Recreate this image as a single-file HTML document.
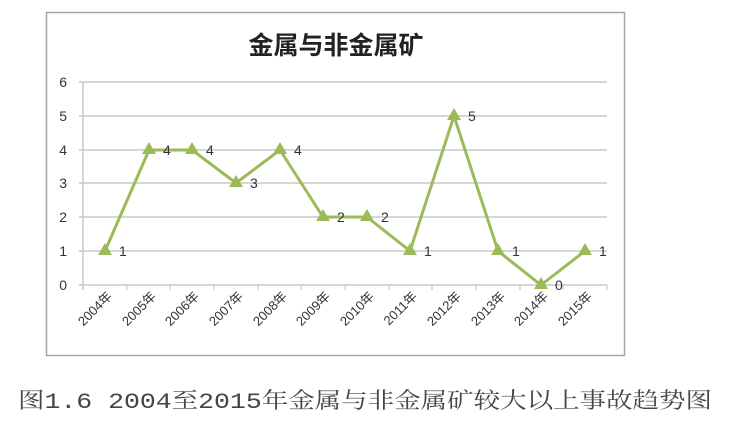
<!DOCTYPE html>
<html><head><meta charset="utf-8"><style>
body{margin:0;background:#fff;width:731px;height:421px;overflow:hidden}
</style></head><body>
<svg width="731" height="421" xmlns="http://www.w3.org/2000/svg" font-family="Liberation Sans, Noto Sans CJK SC, sans-serif">
<rect x="46.5" y="12.5" width="578" height="343" fill="#fff" stroke="#a6a6a6" stroke-width="1.5"/>
<text x="336" y="54" text-anchor="middle" font-size="25" font-weight="bold" fill="#222">金属与非金属矿</text>
<g stroke="#c8c8c8" stroke-width="1.5">
<line x1="79" y1="82" x2="607" y2="82"/>
<line x1="79" y1="116" x2="607" y2="116"/>
<line x1="79" y1="150" x2="607" y2="150"/>
<line x1="79" y1="183" x2="607" y2="183"/>
<line x1="79" y1="217" x2="607" y2="217"/>
<line x1="79" y1="251" x2="607" y2="251"/>
<line x1="79" y1="285" x2="607" y2="285"/>
<line x1="83" y1="82" x2="83" y2="290"/>
</g>
<g stroke="#c8c8c8" stroke-width="1.2">
<line x1="127" y1="285" x2="127" y2="290"/><line x1="170" y1="285" x2="170" y2="290"/><line x1="214" y1="285" x2="214" y2="290"/><line x1="258" y1="285" x2="258" y2="290"/><line x1="301" y1="285" x2="301" y2="290"/><line x1="345" y1="285" x2="345" y2="290"/><line x1="389" y1="285" x2="389" y2="290"/><line x1="432" y1="285" x2="432" y2="290"/><line x1="476" y1="285" x2="476" y2="290"/><line x1="520" y1="285" x2="520" y2="290"/><line x1="563" y1="285" x2="563" y2="290"/><line x1="607" y1="285" x2="607" y2="290"/>
</g>
<g font-size="14" fill="#333" text-anchor="end">
<text x="67" y="87">6</text><text x="67" y="121">5</text><text x="67" y="155">4</text><text x="67" y="188">3</text><text x="67" y="222">2</text><text x="67" y="256">1</text><text x="67" y="290">0</text>
</g>
<polyline fill="none" stroke="#9bbb59" stroke-width="3" stroke-linejoin="round" points="105,251 149,150 192,150 236,183 280,150 323,217 367,217 410,251 454,116 498,251 541,285 585,251"/>
<g fill="#9bbb59">
<path d="M105,243l7,12h-14z"/><path d="M149,142l7,12h-14z"/><path d="M192,142l7,12h-14z"/><path d="M236,175l7,12h-14z"/><path d="M280,142l7,12h-14z"/><path d="M323,209l7,12h-14z"/><path d="M367,209l7,12h-14z"/><path d="M410,243l7,12h-14z"/><path d="M454,108l7,12h-14z"/><path d="M498,243l7,12h-14z"/><path d="M541,277l7,12h-14z"/><path d="M585,243l7,12h-14z"/>
</g>
<g font-size="14" fill="#333">
<text x="119" y="256">1</text><text x="163" y="155">4</text><text x="206" y="155">4</text><text x="250" y="188">3</text><text x="294" y="155">4</text><text x="337" y="222">2</text><text x="381" y="222">2</text><text x="424" y="256">1</text><text x="468" y="121">5</text><text x="512" y="256">1</text><text x="555" y="290">0</text><text x="599" y="256">1</text>
</g>
<g font-size="13" fill="#333" text-anchor="end">
<text transform="translate(113,297) rotate(-45)">2004年</text>
<text transform="translate(157,297) rotate(-45)">2005年</text>
<text transform="translate(200,297) rotate(-45)">2006年</text>
<text transform="translate(244,297) rotate(-45)">2007年</text>
<text transform="translate(288,297) rotate(-45)">2008年</text>
<text transform="translate(331,297) rotate(-45)">2009年</text>
<text transform="translate(375,297) rotate(-45)">2010年</text>
<text transform="translate(418,297) rotate(-45)">2011年</text>
<text transform="translate(462,297) rotate(-45)">2012年</text>
<text transform="translate(506,297) rotate(-45)">2013年</text>
<text transform="translate(549,297) rotate(-45)">2014年</text>
<text transform="translate(593,297) rotate(-45)">2015年</text>
</g>
<text x="18" y="408" font-size="22" fill="#444" font-family="Liberation Mono, Noto Serif CJK SC, serif" textLength="694" lengthAdjust="spacingAndGlyphs">图1.6 2004至2015年金属与非金属矿较大以上事故趋势图</text>
</svg>
</body></html>
